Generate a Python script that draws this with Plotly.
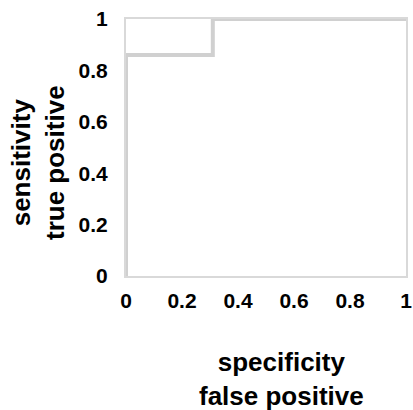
import plotly.graph_objects as go

fpr = [0, 0, 0.31, 0.31, 1]
tpr = [0, 0.86, 0.86, 1, 1]
tick_vals = [0, 0.2, 0.4, 0.6, 0.8, 1]
tick_text = ["0", "0.2", "0.4", "0.6", "0.8", "1"]
x_title = "specificity<br>false positive"
y_title = "sensitivity<br>true positive"

font_family = "Liberation Sans, Arial, sans-serif"

fig = go.Figure()
fig.add_trace(go.Scatter(x=fpr, y=tpr, mode="lines",
                         line=dict(color="#d0d0d0", width=4), showlegend=False,
                         cliponaxis=False))

axis_common = dict(
    range=[0, 1], showgrid=False, zeroline=False, mirror=True,
    showline=True, linecolor="#d9d9d9", linewidth=2,
    tickvals=tick_vals, ticktext=tick_text, automargin=False,
    ticks="outside", tickcolor="rgba(0,0,0,0)", ticklabeloverflow="allow",
    tickfont=dict(family=font_family, size=21, color="black", weight="bold"),
)

title_font = dict(family=font_family, size=26, color="black", weight="bold")

fig.update_layout(
    width=413, height=410,
    margin=dict(l=126, r=7, t=19, b=134),
    paper_bgcolor="white", plot_bgcolor="white",
    xaxis=dict(**axis_common, ticklen=5),
    yaxis=dict(**axis_common, ticklen=12),
    annotations=[
        dict(text=x_title, xref="paper", yref="paper", x=0.554, y=-0.4026,
             xanchor="center", yanchor="middle", showarrow=False, font=title_font),
        dict(text=y_title, xref="paper", yref="paper", x=-0.314, y=0.44,
             xanchor="center", yanchor="middle", showarrow=False, font=title_font,
             textangle=-90),
    ],
)

fig.write_html("out.html", config={"displayModeBar": False},
               post_script="document.body.style.margin='0';")
